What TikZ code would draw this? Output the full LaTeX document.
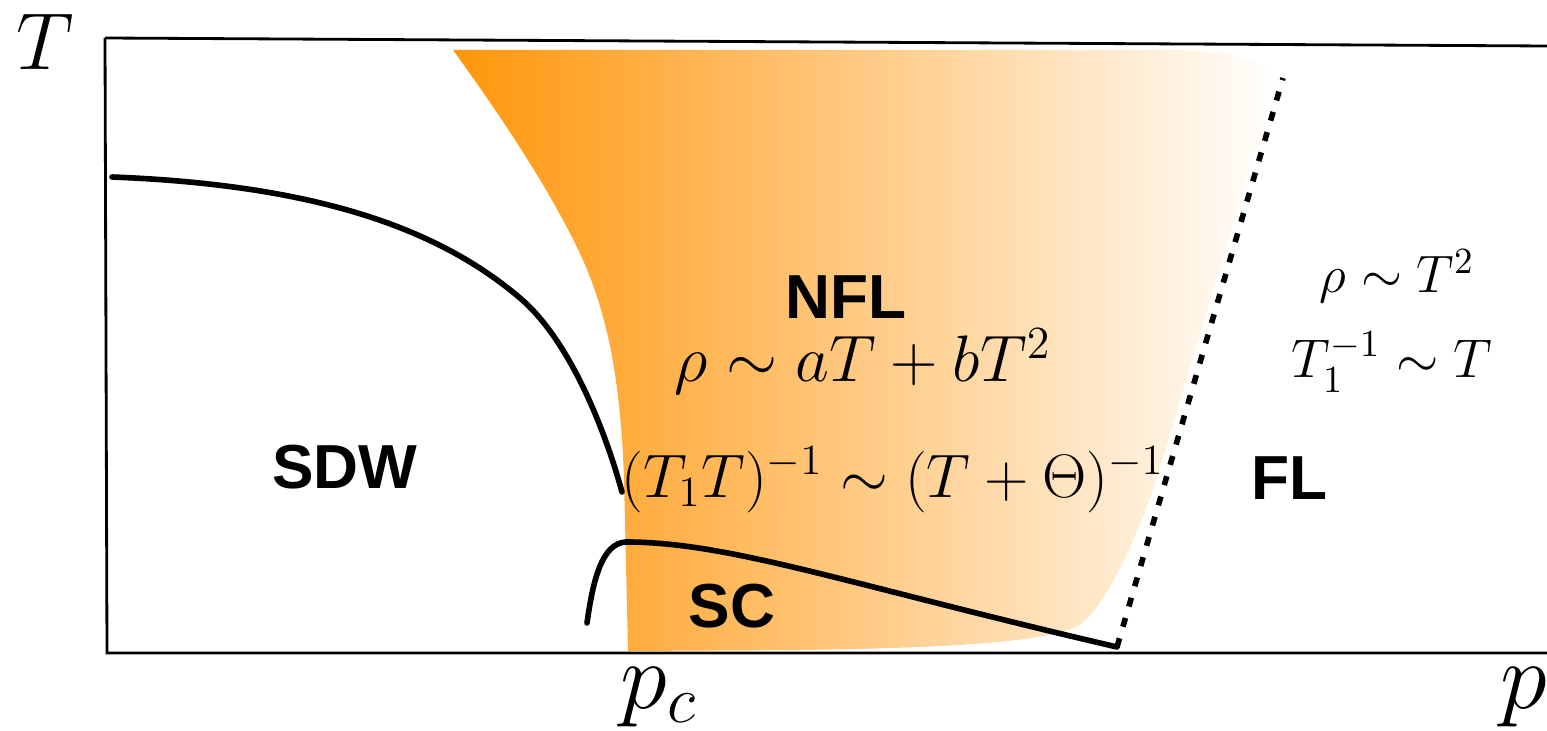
\RequirePackage{fix-cm}
\documentclass[tikz,border=0pt]{standalone}
\usepackage{amsmath, amssymb}
\usepackage{fontspec}
\newfontfamily\phasefont{Liberation Sans}
\usepackage{tikz}
\usepackage{xcolor}
\usetikzlibrary{positioning, calc}
\definecolor{nflOrange}{RGB}{255,150,10}
\tikzset{
    axisLine/.style={line width=0.8pt},
    phaseLine/.style={line width=1.6pt, line cap=round},
    crossLine/.style={line width=1.6pt, dash pattern=on 2.6pt off 3.4pt},
    phaseName/.style={font={\phasefont\bfseries\fontsize{17.7}{20}\selectfont}, inner sep=0pt, anchor=base},
    lawText/.style={inner sep=0pt, anchor=base}
}

\begin{document}
\begin{tikzpicture}
    \useasboundingbox (0,0) rectangle (15.47,7.30);
    % non-Fermi-liquid fan
    \shade[left color=nflOrange, right color=white]
        (4.53,6.80) .. controls (4.95,6.22) and (5.5,5.42) .. (5.83,4.70)
        .. controls (5.97,4.37) and (6.2,3.8) .. (6.24,2.5) -- (6.28,0.79)
        -- (8.0,0.80) .. controls (9.5,0.82) and (10.4,0.88) .. (10.73,1.02)
        .. controls (11.0,1.1) and (11.4,1.95) .. (11.6,2.63)
        -- (12.77,6.50) .. controls (12.6,6.75) and (12.2,6.80) .. (11.67,6.80) -- cycle;
    % axes
    \coordinate (origin) at (1.07,0.77);
    \coordinate (tTop) at (1.05,6.92);
    \coordinate (pEnd) at (15.47,0.77);
    \coordinate (boxEnd) at (15.47,6.84);
    \draw[axisLine] (tTop) -- (origin) -- (pEnd);
    \draw[axisLine] (tTop) -- (boxEnd);
    % phase boundaries
    \coordinate (sdwStart) at (1.12,5.53);
    \coordinate (sdwEnd) at (6.22,2.38);
    \draw[phaseLine] (sdwStart) .. controls (3.2,5.45) and (4.4,5.0) .. (5.2,4.32)
        .. controls (5.7,3.895) and (6.05,3.0) .. (sdwEnd);
    \coordinate (scStart) at (5.87,1.07);
    \coordinate (scTop) at (6.26,1.88);
    \coordinate (scEnd) at (11.17,0.83);
    \coordinate (flTop) at (12.83,6.52);
    \draw[phaseLine] (scStart) .. controls (5.93,1.5) and (6.02,1.87) .. (scTop)
        .. controls (7.3,1.88) and (8.5,1.45) .. (scEnd);
    \draw[crossLine] (scEnd) -- (flTop);
    % axis labels
    \node[font=\fontsize{23}{26}\selectfont] (tLabel) at (0.45,6.88) {$T$};
    \node[lawText, font=\fontsize{27}{30}\selectfont] (pcLabel) at (6.59,0.22) {$p_c$};
    \node[lawText, anchor=base west, font=\fontsize{27}{30}\selectfont] (pLabel) at (15.0,0.22) {$p$};
    % phases
    \node[phaseName] (sdw) at (3.45,2.41) {SDW};
    \node[phaseName] (nfl) at (8.46,4.11) {NFL};
    \node[phaseName] (fl) at (12.89,2.30) {FL};
    \node[phaseName] (sc) at (7.32,1.03) {SC};
    % scaling laws
    \node[lawText, font=\fontsize{18.7}{22}\selectfont] (nflRho) at (8.63,3.48) {$\rho\sim aT+bT^2$};
    \node[lawText, font=\fontsize{17.5}{21}\selectfont] (nflRelax) at (8.93,2.33) {$(T_1T)^{-1}\sim(T+\Theta)^{-1}$};
    \node[lawText, font=\fontsize{15}{18}\selectfont] (flRho) at (13.97,4.37) {$\rho\sim T^2$};
    \node[lawText, font=\fontsize{15.5}{18}\selectfont] (flRelax) at (13.92,3.52) {$T_1^{-1}\sim T$};
\end{tikzpicture}
\end{document}
